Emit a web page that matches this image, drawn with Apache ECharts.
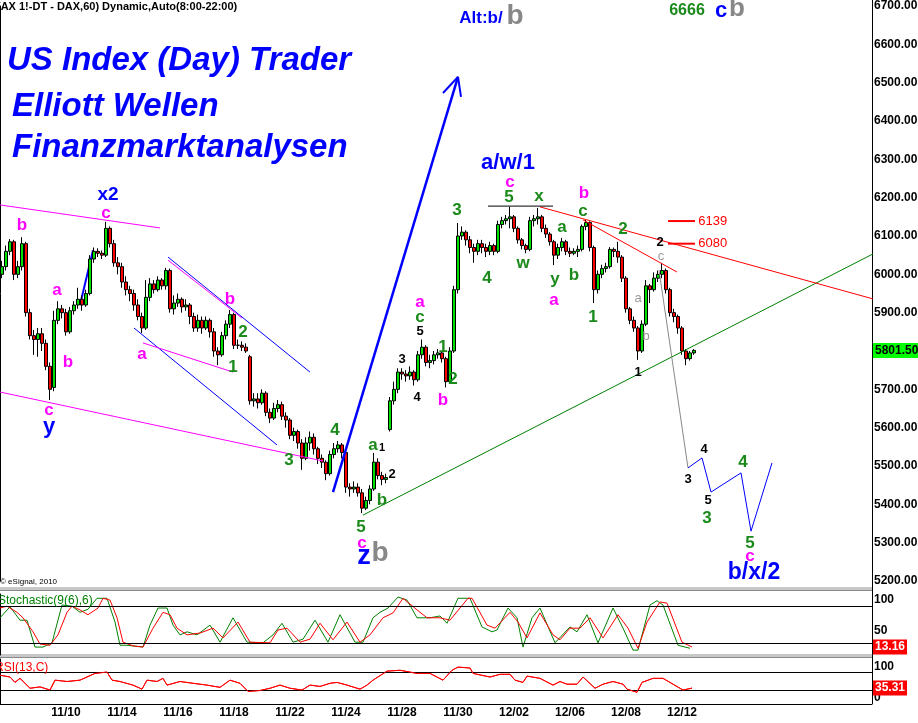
<!DOCTYPE html>
<html>
<head>
<meta charset="utf-8">
<script src="https://cdn.jsdelivr.net/npm/echarts@6/dist/echarts.min.js"></script>
<style>
html,body{margin:0;padding:0;background:#fff;}
#chart{width:918px;height:723px;}
</style>
</head>
<body>
<div id="chart"></div>
<script>
// ---------- DATA ----------
// hourly-ish candles [open, close, low, high]
const candles = [
[6000,6020,5990,6035],[6020,6060,6010,6075],[6060,6085,6050,6092],[6085,6000,5985,6090],[6000,6020,5990,6035],
[6020,6080,6010,6097],[6080,5900,5890,6085],[5900,5840,5830,5910],[5840,5830,5790,5855],[5830,5845,5785,5860],
[5845,5820,5800,5860],[5820,5760,5750,5830],[5760,5700,5672,5770],[5705,5880,5695,5905],[5880,5910,5870,5930],
[5910,5900,5885,5920],[5900,5850,5840,5910],[5850,5905,5845,5915],[5905,5920,5895,5930],[5920,5935,5910,5965],
[5935,5920,5905,5945],[5920,5950,5915,5960],[5950,6040,5945,6050],[6040,6060,6030,6070],[6060,6055,6045,6068],
[6055,6050,6040,6062],[6050,6120,6045,6137],[6120,6080,6070,6125],[6080,6030,6020,6090],[6030,6020,6000,6045],
[6020,5980,5965,6030],[5980,5960,5945,5995],[5960,5950,5930,5970],[5950,5920,5905,5960],[5920,5890,5880,5935],
[5890,5860,5847,5900],[5860,5940,5855,5985],[5940,5975,5930,5990],[5975,5960,5950,5985],[5960,5985,5955,5995],
[5985,5970,5960,5990],[5970,6010,5960,6017],[6010,5910,5900,6015],[5910,5925,5895,5945],[5925,5935,5915,5950],
[5935,5915,5900,5940],[5915,5920,5905,5935],[5920,5890,5870,5925],[5890,5860,5850,5900],[5860,5880,5850,5895],
[5880,5860,5845,5890],[5860,5880,5855,5890],[5880,5850,5835,5885],[5850,5800,5785,5860],[5800,5790,5763,5810],
[5790,5840,5785,5850],[5840,5870,5830,5880],[5870,5895,5860,5907],[5895,5815,5805,5900],[5815,5815,5805,5830],
[5815,5810,5800,5825],[5810,5800,5795,5820],[5785,5670,5660,5790],[5670,5675,5655,5690],[5675,5665,5650,5690],
[5665,5690,5660,5700],[5690,5640,5630,5695],[5640,5625,5612,5650],[5625,5650,5620,5665],[5650,5660,5640,5672],
[5660,5630,5620,5668],[5630,5620,5600,5640],[5620,5580,5570,5625],[5580,5590,5565,5600],[5590,5560,5545,5595],
[5560,5520,5490,5570],[5520,5560,5515,5575],[5560,5575,5540,5590],[5575,5545,5530,5585],[5545,5520,5505,5550],
[5520,5510,5495,5530],[5510,5480,5463,5515],[5480,5530,5475,5540],[5530,5545,5520,5560],[5545,5555,5535,5565],
[5555,5535,5520,5560],[5535,5445,5430,5540],[5445,5440,5420,5455],[5440,5445,5430,5460],[5445,5430,5420,5455],
[5430,5390,5377,5440],[5390,5410,5385,5420],[5410,5440,5400,5450],[5440,5510,5435,5534],[5510,5475,5465,5520],
[5475,5465,5450,5485],[5465,5470,5455,5480],[5595,5670,5590,5680],[5670,5700,5660,5720],[5700,5745,5690,5755],
[5745,5740,5725,5755],[5740,5735,5720,5750],[5735,5745,5725,5760],[5745,5725,5710,5750],[5725,5790,5720,5800],
[5790,5810,5780,5830],[5810,5770,5760,5815],[5770,5775,5755,5790],[5775,5790,5765,5800],[5790,5795,5780,5805],
[5795,5780,5770,5800],[5780,5720,5705,5785],[5720,5800,5715,5810],[5800,5960,5795,5970],[5960,6100,5950,6134],
[6100,6110,6090,6125],[6110,6090,6075,6115],[6090,6070,6055,6100],[6070,6060,6030,6080],[6060,6080,6050,6090],
[6080,6070,6055,6090],[6070,6060,6045,6080],[6060,6075,6050,6085],[6075,6060,6050,6080],[6060,6130,6055,6140],
[6130,6140,6120,6150],[6140,6145,6130,6155],[6145,6150,6120,6176],[6150,6120,6110,6155],[6120,6090,6080,6125],
[6090,6075,6065,6095],[6075,6065,6055,6080],[6065,6140,6060,6150],[6140,6145,6125,6155],[6145,6150,6130,6173],
[6150,6120,6110,6155],[6120,6105,6095,6130],[6105,6085,6075,6110],[6085,6050,6024,6090],[6050,6070,6040,6080],
[6070,6085,6060,6095],[6085,6060,6050,6090],[6060,6055,6045,6070],[6055,6060,6050,6068],[6060,6065,6045,6075],
[6065,6125,6060,6130],[6125,6135,6115,6142],[6135,6070,6060,6138],[6070,5960,5925,6075],[5960,6000,5950,6010],
[6000,6015,5990,6025],[6015,6020,6005,6030],[6020,6065,6015,6071],[6065,6060,6045,6070],[6060,6045,6030,6085],
[6045,5990,5980,6050],[5990,5910,5900,5995],[5910,5880,5870,5915],[5880,5860,5850,5890],[5860,5800,5777,5865],
[5800,5870,5795,5880],[5870,5970,5865,5985],[5970,5960,5925,5975],[5960,5990,5955,6005],[5990,6000,5980,6010],
[6000,6010,5990,6030],[6010,5960,5950,6015],[5960,5900,5890,5965],[5900,5890,5875,5910],[5890,5860,5845,5895],
[5860,5800,5790,5865],[5800,5780,5763,5805],[5780,5795,5775,5800],[5795,5801.5,5790,5805]
];
const lastPrice = 5801.5;

// x tick labels (every 2 sessions)
const dateLabels = ['11/10','11/14','11/16','11/18','11/22','11/24','11/28','11/30','12/02','12/06','12/08','12/12'];
const firstLabelBar = 16, labelStepBars = 14, totalSlots = 218;

// price tick labels
const priceTicks = [5200,5300,5400,5500,5600,5700,5800,5900,6000,6100,6200,6300,6400,6500,6600,6700];

// Stochastic %K and %D  [slot position, value]
const stochK = [[0,61],[2.5,79],[5,57],[6.75,57],[8.75,13],[10.75,13],[13,20],[15.5,82],[18,80],[20,70],[22,75],[24.25,93],[26.75,93],[28.75,54],[30,16],[31.75,16],[35.75,13],[37.5,49],[39.5,77],[41.75,77],[43.25,49],[45,33],[46.75,38],[49.25,33],[52.5,49],[55,21],[58.25,61],[61.75,21],[65.75,20],[68.25,33],[70.5,52],[73.25,21],[75.75,26],[78.75,57],[82,21],[85,66],[88.75,21],[90.75,21],[93.25,61],[95,70],[97,77],[99.5,95],[101.75,90],[104.25,61],[107.5,61],[110,64],[111.75,52],[114.5,93],[117.5,93],[120.5,46],[123,38],[124.25,41],[127,77],[129.25,61],[130.75,13],[133,61],[135,77],[138.75,20],[142.5,46],[144.25,38],[146.75,66],[149.5,20],[153.25,77],[155.75,44],[158.25,8],[159.5,8],[162.5,82],[164.25,89],[165.75,82],[169.5,16],[172.5,11]];
const stochD = [[0,77],[1.75,80],[4.25,70],[5.75,61],[8.25,38],[10,18],[12.5,16],[14.5,33],[16.75,70],[18,80],[20,74],[22,66],[24.5,77],[25.75,93],[27.5,90],[29.25,61],[30.75,21],[33.25,15],[35.75,13],[38.25,44],[40.75,70],[42.5,66],[44.25,44],[46.75,33],[50,36],[53.25,44],[55.75,28],[59.5,54],[62.5,21],[67.5,20],[69.5,41],[71.75,44],[75,21],[77.5,26],[80,52],[83.25,25],[86.75,54],[90,21],[92.5,33],[95.75,61],[98.25,69],[100.75,93],[104.25,74],[106.75,61],[110,61],[112.5,57],[115,77],[117,93],[118,93],[121.75,49],[123.75,44],[127.5,70],[129.5,54],[131.75,28],[135,69],[138.25,33],[140,25],[142.5,44],[145,44],[147.5,61],[150.75,28],[154.5,66],[157,44],[159.5,11],[161.75,54],[165,87],[166.75,85],[170.5,21],[173,13.16]];
const stochLast = 13.16;

// RSI(13)
const rsi = [[0,64],[2.5,60],[3.75,48],[5,57],[7.5,35],[10,38],[12.5,31],[13.75,53],[16.75,50],[20,53],[21.75,60],[23.75,68],[26.75,71],[28,53],[30,50],[33.25,42],[35.5,33],[36.75,53],[39.25,50],[40.75,57],[41.75,42],[45,50],[48.25,46],[51.75,42],[55,37],[57.5,53],[60,46],[62,28],[65,30],[67.5,35],[70,42],[72.5,35],[75.5,31],[77.5,42],[80,39],[82.5,46],[84.25,48],[86.75,42],[90,33],[91.75,42],[93.25,53],[96.75,73],[100,75],[104.25,68],[107.5,68],[110.75,53],[113,75],[114.5,82],[115,80],[117.5,80],[118.25,68],[122.5,60],[125,66],[127.5,66],[128.75,53],[130.75,48],[131.75,62],[135,57],[138.25,42],[140,50],[141.75,44],[144.25,44],[145.75,60],[148.75,35],[150.75,44],[153.25,50],[155.75,44],[156.75,33],[159.25,26],[160.5,48],[163.25,57],[165.75,57],[168.25,44],[170.75,31],[173,35.31]];
const rsiLast = 35.31;

// drawn trend lines [slot, price] pairs
const pinkTop = [[0,6181],[40,6121]];
const pinkBottom = [[0,5693],[80.75,5513]];
const blueChanTop = [[42,6045],[77.5,5745]];
const blueChanBottom = [[33.5,5860],[69.25,5555]];
const pinkInner = [[42,6037],[60.5,5886]];
const pinkLow = [[35.75,5821],[58.25,5745]];
const blueShort = [[20,5920],[23.25,6063]];
const blueArrow = [[83.25,5432],[114.5,6515]];
const blueArrowHead = [[110.75,6473],[114.5,6515],[115.25,6463]];
const greenSupport = [[90.75,5372],[230,6116]];
const redResistance = [[135,6176],[230,5902]];
const redShort = [[145.75,6142],[169.25,6006]];
const blackTop = [[122,6178],[138.25,6178]];
const greyDrop = [[164.75,6011],[172,5495]];
const projection = [[172,5495],[175.5,5521],[177.75,5432],[185.25,5482],[187.75,5330],[193,5508]];
const level6139 = [[167,6139],[173.75,6139]];
const level6080 = [[167,6080],[173.75,6080]];

// wave labels [slot, price, text, style]
const waveLabels = [
[27,6207,'x2','blue19'],[26.5,6160,'c','pink'],[5.5,6129,'b','pink'],[14.25,5959,'a','pink'],[17,5771,'b','pink'],
[12.25,5646,'c','pink'],[12.25,5602,'y','blue22'],[35.5,5792,'a','pink'],[57.5,5936,'b','pink'],[60.75,5850,'2','green'],
[58.25,5758,'1','green'],[72.25,5516,'3','green'],[83.75,5594,'4','green'],[93.25,5555,'a','green'],[95.5,5547,'1','black11'],
[98,5477,'2','black'],[95.5,5411,'b','green'],[90.25,5341,'5','green'],[90.5,5299,'c','pink'],[91,5265,'z','blue26'],
[95,5273,'b','grey28'],[105,5928,'a','pink'],[105,5889,'c','green'],[105,5850,'5','black'],[100.5,5779,'3','black'],
[104.25,5680,'4','black'],[110.75,5810,'1','green'],[113.25,5727,'2','green'],[110.75,5672,'b','pink'],[114.25,6168,'3','green'],
[127,6290,'a/w/1','blue22'],[127.5,6241,'c','pink'],[127.25,6202,'5','green'],[134.75,6204,'x','green'],[146,6212,'b','pink'],
[121.75,5990,'4','green'],[130.75,6030,'w','green'],[138.75,5988,'y','green'],[138.5,5933,'a','pink'],[140.5,6123,'a','green'],
[143.5,5998,'b','green'],[145.75,6165,'c','green'],[148.25,5889,'1','green'],[155.75,6118,'2','green'],[165,6082,'2','black'],
[165.25,6048,'c','grey13'],[159.5,5938,'a','grey13'],[161.5,5837,'b','grey13'],[159.5,5745,'1','black'],
[172,5466,'3','black'],[176,5544,'4','black'],[177,5411,'5','black'],[176.75,5364,'3','green'],[185.75,5510,'4','green'],
[187.5,5299,'5','green'],[187.5,5265,'c','pink'],[188.5,5223,'b/x/2','blue23'],
[178.2,6139,'6139','red13'],[178.2,6080,'6080','red13'],
[120.25,6669,'Alt:b/','blue17'],[128.75,6674,'b','grey28'],[171.75,6687,'6666','green16'],[180.25,6687,'c','blue22'],[184.25,6692,'b','grey26']
];

// ---------- STYLES ----------
const FONT = '"Liberation Sans", Arial, sans-serif';
const labelStyles = {
  pink:{color:'#ff00ff',fontSize:17,fontWeight:'bold'},
  green:{color:'#1a8a1a',fontSize:17,fontWeight:'bold'},
  green16:{color:'#1a8a1a',fontSize:16,fontWeight:'bold'},
  black:{color:'#000',fontSize:13,fontWeight:'bold'},
  black11:{color:'#000',fontSize:11,fontWeight:'bold'},
  grey13:{color:'#999',fontSize:13,fontWeight:'normal'},
  grey26:{color:'#888',fontSize:26,fontWeight:'bold'},
  grey28:{color:'#888',fontSize:28,fontWeight:'bold'},
  blue17:{color:'#0000ff',fontSize:17,fontWeight:'bold'},
  blue19:{color:'#0000ff',fontSize:19,fontWeight:'bold'},
  blue22:{color:'#0000ff',fontSize:22,fontWeight:'bold'},
  blue23:{color:'#0000ff',fontSize:23,fontWeight:'bold'},
  blue26:{color:'#0000ff',fontSize:27,fontWeight:'bold'},
  red13:{color:'#ff0000',fontSize:13,fontWeight:'normal'}
};

const cats = new Array(totalSlots).fill('');
dateLabels.forEach((d,k)=>{ cats[firstLabelBar + labelStepBars*k] = d; });
const emptyCats = new Array(totalSlots).fill('');

function overlay(data, color, width, extra){
  return Object.assign({
    type:'line', xAxisIndex:1, yAxisIndex:0, data:data, symbol:'none', silent:true,
    clip:false, z:4, lineStyle:{color:color,width:width}, animation:false
  }, extra||{});
}

function boxLine(value, text, bg, fg){
  return {
    silent:true, symbol:['none','none'], animation:false,
    lineStyle:{color:'rgba(0,0,0,0)', width:0, type:'solid'},
    data:[{yAxis:value,
      label:{show:true, position:'end', distance:1, formatter:text, backgroundColor:bg, color:fg, opacity:1,
        fontWeight:'bold', fontSize:12, fontFamily:FONT, padding:[2,2,1,2]}}]
  };
}

const option = {
  backgroundColor:'#fff',
  animation:false,
  textStyle:{fontFamily:FONT},
  grid:[
    {left:0, top:6, width:872, height:575, outerBoundsMode:'none'},
    {left:0, top:594, width:872, height:61, outerBoundsMode:'none'},
    {left:0, top:659, width:872, height:45, outerBoundsMode:'none'}
  ],
  xAxis:[
    {type:'category', gridIndex:0, data:emptyCats, boundaryGap:true, show:false},
    {type:'value', gridIndex:0, min:0, max:totalSlots, show:false},
    {type:'value', gridIndex:1, min:0, max:totalSlots, show:false},
    {type:'value', gridIndex:2, min:0, max:totalSlots, show:false},
    {type:'category', gridIndex:2, data:cats, boundaryGap:true, position:'bottom',
      axisLine:{show:true, lineStyle:{color:'#000', width:1}}, axisTick:{show:false},
      axisLabel:{interval:0, color:'#000', fontWeight:'bold', fontSize:12, margin:3, fontFamily:FONT},
      splitLine:{show:false}}
  ],
  yAxis:[
    {type:'value', gridIndex:0, position:'right', min:priceTicks[0], max:priceTicks[priceTicks.length-1], interval:100,
      axisLine:{show:true, lineStyle:{color:'#000'}}, axisTick:{show:false}, splitLine:{show:false},
      axisLabel:{color:'#000', fontWeight:'bold', fontSize:12, margin:2, fontFamily:FONT,
        formatter:v=>v.toFixed(2)}},
    {type:'value', gridIndex:1, position:'right', min:0, max:100, interval:50,
      axisLine:{show:true, lineStyle:{color:'#000'}}, axisTick:{show:false}, splitLine:{show:false},
      axisLabel:{color:'#000', fontWeight:'bold', fontSize:12, margin:2, fontFamily:FONT,
        formatter:v=> v===0 ? '' : '{t|' + v + '}',
        rich:{t:{padding:[12,0,0,0], fontWeight:'bold', fontSize:12, color:'#000'}}}},
    {type:'value', gridIndex:2, position:'right', min:0, max:100, interval:100,
      axisLine:{show:true, lineStyle:{color:'#000'}}, axisTick:{show:false}, splitLine:{show:false},
      axisLabel:{color:'#000', fontWeight:'bold', fontSize:12, margin:2, fontFamily:FONT,
        formatter:v=> v===100 ? '{t|100}' : '{b|0}',
        rich:{t:{padding:[16,0,0,0], fontWeight:'bold', fontSize:12, color:'#000'}, b:{padding:[0,0,12,0], fontWeight:'bold', fontSize:12, color:'#000'}}}}
  ],
  series:[
    {type:'candlestick', xAxisIndex:0, yAxisIndex:0, data:candles, barWidth:3, z:2,
      itemStyle:{color:'#00e000', color0:'#ff0000', borderColor:'#000', borderColor0:'#000', borderWidth:1},
      markLine: boxLine(lastPrice, lastPrice.toFixed(2), '#00ff00', '#000')},
    overlay(pinkTop,'#ff00ff',1),
    overlay(pinkBottom,'#ff00ff',1),
    overlay(blueChanTop,'#0000ff',1),
    overlay(blueChanBottom,'#0000ff',1),
    overlay(pinkInner,'#ff00ff',1),
    overlay(pinkLow,'#ff00ff',1),
    overlay(blueShort,'#0000ff',2, {z:1}),
    overlay(blueArrow,'#0000ff',2.5),
    overlay(blueArrowHead,'#0000ff',2),
    overlay(greenSupport,'#008000',1),
    overlay(redResistance,'#ff0000',1),
    overlay(redShort,'#ff0000',1),
    overlay(blackTop,'#000000',1),
    overlay(greyDrop,'#888888',1),
    overlay(projection,'#0000ff',1),
    overlay(level6139,'#ff0000',2),
    overlay(level6080,'#ff0000',2),
    {type:'scatter', xAxisIndex:1, yAxisIndex:0, symbolSize:0, silent:true, z:6, clip:false,
      itemStyle:{opacity:1},
      data: waveLabels.map(r=>({value:[r[0],r[1]],
        label:Object.assign({show:true, position:'inside', formatter:r[2], fontFamily:FONT, opacity:1}, labelStyles[r[3]])}))},
    {type:'line', xAxisIndex:2, yAxisIndex:1, data:stochK, symbol:'none', silent:true,
      lineStyle:{color:'#008000', width:1},
      markLine:{silent:true, symbol:['none','none'], label:{show:false}, animation:false,
        lineStyle:{color:'#000', type:'solid', width:1}, data:[{yAxis:80},{yAxis:20}]}},
    {type:'line', xAxisIndex:2, yAxisIndex:1, data:stochD, symbol:'none', silent:true,
      lineStyle:{color:'#ff0000', width:1}, markLine: boxLine(stochLast, stochLast.toFixed(2), '#ff0000', '#fff')},
    {type:'line', xAxisIndex:3, yAxisIndex:2, data:rsi, symbol:'none', silent:true,
      lineStyle:{color:'#ff0000', width:1},
      markLine:{silent:true, symbol:['none','none'], label:{show:false}, animation:false,
        lineStyle:{color:'#000', type:'solid', width:1}, data:[{yAxis:70},{yAxis:30}]}},
    {type:'line', xAxisIndex:3, yAxisIndex:2, data:rsi, symbol:'none', silent:true, z:5,
      lineStyle:{color:'#ff0000', width:1},
      markLine: boxLine(rsiLast, rsiLast.toFixed(2), '#ff0000', '#fff')}
  ],
  graphic:{elements:[
    {type:'rect', shape:{x:0,y:587,width:872,height:4}, style:{fill:'#c8c8c8'}, silent:true},
    {type:'line', shape:{x1:0,y1:590.5,x2:872,y2:590.5}, style:{stroke:'#8a8a8a',lineWidth:1}, silent:true},
    {type:'rect', shape:{x:0,y:654,width:872,height:4}, style:{fill:'#c8c8c8'}, silent:true},
    {type:'line', shape:{x1:0,y1:657.5,x2:872,y2:657.5}, style:{stroke:'#8a8a8a',lineWidth:1}, silent:true},
    {type:'line', shape:{x1:872.5,y1:0,x2:872.5,y2:704}, style:{stroke:'#000',lineWidth:1}, silent:true},
    {type:'text', x:-3, y:7, style:{text:'(AX 1!-DT - DAX,60) Dynamic,Auto(8:00-22:00)', fill:'#000', font:'bold 11px "Liberation Sans"', verticalAlign:'middle'}},
    {type:'text', x:7, y:61, style:{text:'US Index (Day) Trader', fill:'#0000ff', font:'italic bold 33px "Liberation Sans"', verticalAlign:'middle'}},
    {type:'text', x:12, y:107, style:{text:'Elliott Wellen', fill:'#0000ff', font:'italic bold 33px "Liberation Sans"', verticalAlign:'middle'}},
    {type:'text', x:12, y:148, style:{text:'Finanzmarktanalysen', fill:'#0000ff', font:'italic bold 33px "Liberation Sans"', verticalAlign:'middle'}},
    {type:'text', x:0, y:582, style:{text:'© eSignal, 2010', fill:'#000', font:'8px "Liberation Sans"', verticalAlign:'middle'}},
    {type:'text', x:-2, y:601, z:10, style:{text:'Stochastic(9(6),6)', fill:'#008000', font:'12px "Liberation Sans"', verticalAlign:'middle'}},
    {type:'text', x:-5, y:668, z:10, style:{text:'RSI(13,C)', fill:'#ff0000', font:'12px "Liberation Sans"', verticalAlign:'middle'}}
  ]}
};

const chart = echarts.init(document.getElementById('chart'), null, {renderer:'canvas'});
chart.setOption(option);
</script>
</body>
</html>
